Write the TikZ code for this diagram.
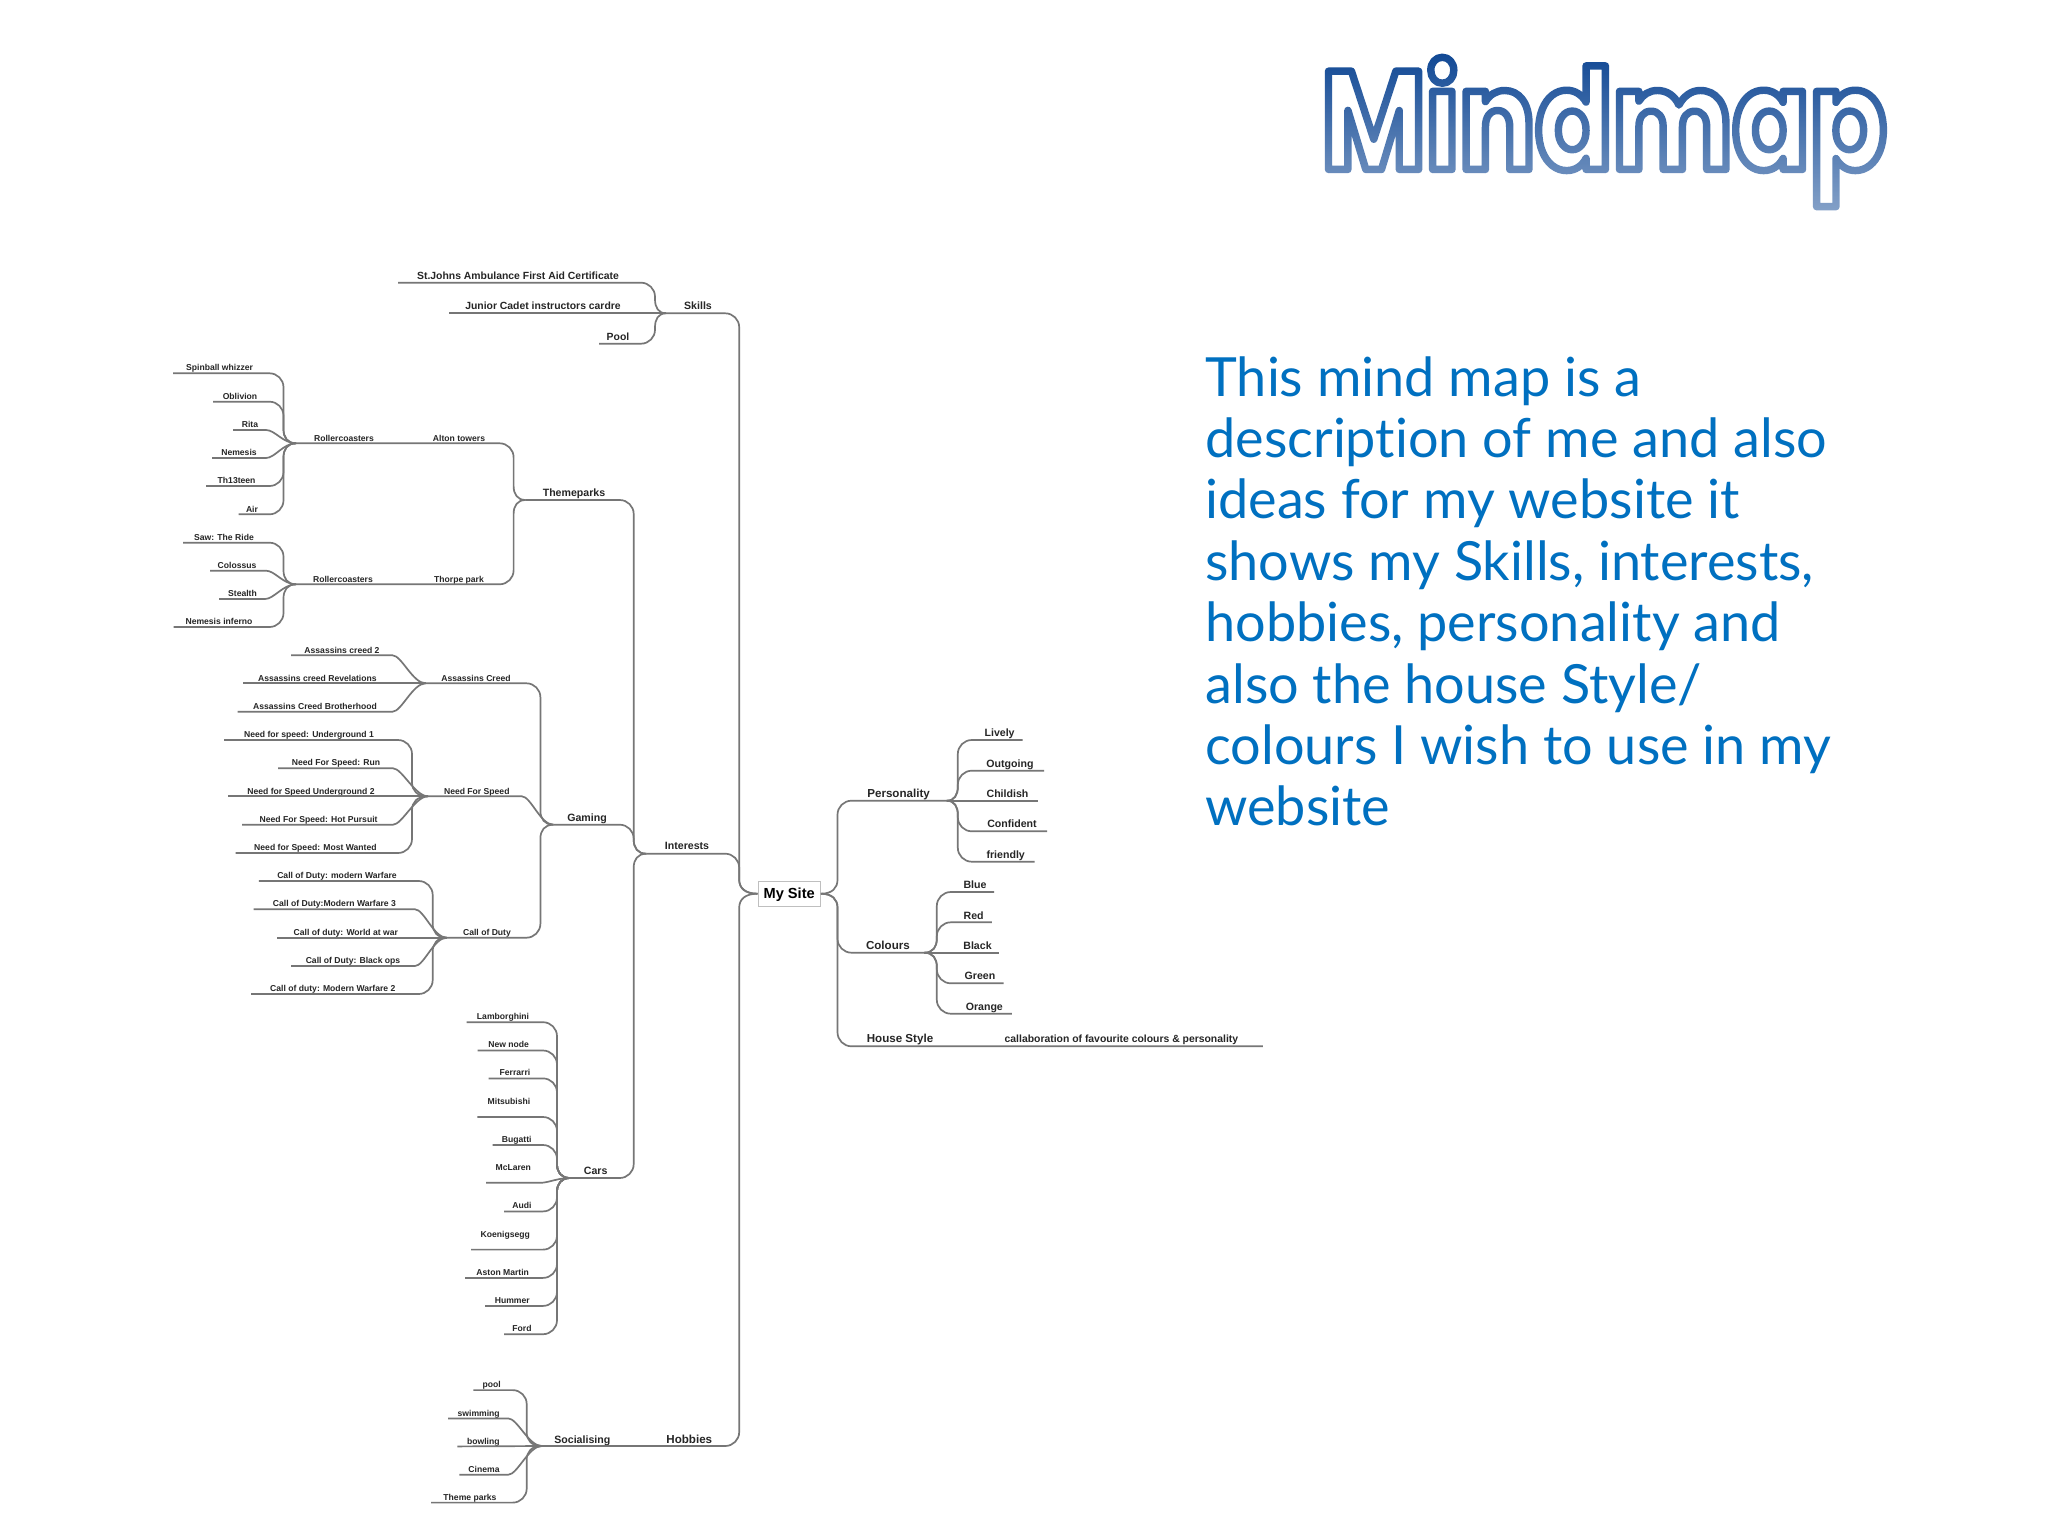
\documentclass[tikz,border=0pt]{standalone}
\usepackage{fontspec}
\setmainfont{Liberation Sans}
\newfontfamily\blurbfont[Ligatures=NoCommon]{Lato}
\newfontfamily\logofont[FakeStretch=0.81]{Poppins Bold}
\usetikzlibrary{fadings}
\definecolor{linegray}{HTML}{767676}
\definecolor{inkgray}{HTML}{262626}
\definecolor{blurbblue}{HTML}{0070C0}
\tikzset{
    branch/.style={draw=linegray, line width=0.85pt},
    hub/.style={inner sep=0pt, outer sep=0pt, minimum size=0pt},
    leaftext/.style={inner sep=0pt, text=inkgray, text height=3.6pt, text depth=0.5pt, font=\fontsize{4.3}{5}\selectfont\bfseries},
    lefttext/.style={inner sep=0pt, text=inkgray, text height=4.3pt, text depth=0.6pt, font=\fontsize{5.2}{6}\selectfont\bfseries},
    midtext/.style={inner sep=0pt, text=inkgray, text height=4.45pt, text depth=0.64pt, font=\fontsize{5.3}{6}\selectfont\bfseries},
    headtext/.style={inner sep=0pt, text=inkgray, text height=4.9pt, text depth=0.7pt, font=\fontsize{5.8}{7}\selectfont\bfseries},
    roottext/.style={draw=black!25, line width=0.7pt, fill=white, inner sep=0pt, minimum width=31pt, minimum height=12.5pt, text=black, text height=5.7pt, text depth=1.3pt, font=\fontsize{7.3}{8}\selectfont\bfseries},
}
% text of a twig, and the free end of its line
\newcommand{\leaf}[5][leaftext]{
    \node[#1] (#2) at (#3) {#4};
    \coordinate (#2end) at (#5);
}
% from a hub along a vertical into the horizontal line of #4
\newcommand{\bendto}[4]{
    \draw[branch] (#1) .. controls +({0.7*#2},0) and +(0,{-8*#3}) .. ++(#2,{14*#3}) [rounded corners=7pt] |- (#4);
}
% from a hub slanting to an elbow, then straight on
\newcommand{\slantto}[3]{
    \draw[branch] (#1) .. controls +(-13,0) and +(9,0) .. (#2) -- (#3);
}

\begin{document}
\begin{tikzpicture}[x=0.5pt,y=-0.5pt]
    \useasboundingbox[fill=white] (0,0) rectangle (2048,1536);

    % logo
    \node[inner sep=0pt, font=\fontsize{70}{76}\logofont] (title) at (1604,132)
        {\special{pdf:code q 1 1 1 rg 0.06 0.28 0.58 RG 3.7 w 1 j 1 J 2 Tr}Mindmap\special{pdf:code Q}};
    \fill[white, fill opacity=0.5, path fading=north] (1310,50) rectangle (1900,215);

    % blurb
    \node[anchor=north west, inner sep=0pt, align=left, text=blurbblue, font=\fontsize{27}{30.7}\selectfont\blurbfont] (blurb) at (1205,356)
        {This mind map is a\\description of me and also\\ideas for my website it\\shows my Skills, interests,\\hobbies, personality and\\also the house Style/\\colours I wish to use in my\\website};

    % root
    \node[roottext] (mysite) at (789.2,893.7) {My Site};

    % skills
    \node[hub] (skillshub) at (666,313.3) {};
    \node[midtext] (skills) at (698,305.7) {Skills};
    \bendto{mysite.west}{-18.3}{-1}{skillshub}
    \leaf[lefttext]{stjohns}{518,275.7}{St.Johns Ambulance First Aid Certificate}{398,282.7}
    \leaf[lefttext]{junior}{543,306}{Junior Cadet instructors cardre}{448.5,313.3}
    \leaf[lefttext]{poolskill}{618,336.3}{Pool}{599,343.7}
    \bendto{skillshub}{-11}{-1}{stjohnsend}
    \draw[branch] (skillshub) -- (juniorend);
    \bendto{skillshub}{-11}{1}{poolskillend}

    % interests
    \node[hub] (interestshub) at (646.4,853.7) {};
    \node[midtext] (interests) at (687,846) {Interests};
    \bendto{mysite.west}{-18.3}{-1}{interestshub}

    % themeparks
    \node[hub] (parkshub) at (525.6,500) {};
    \node[midtext] (themeparks) at (574,492.7) {Themeparks};
    \bendto{interestshub}{-12.7}{-1}{parkshub}
    \node[hub] (altonhub) at (296,443.3) {};
    \node[leaftext] (rollera) at (344,438) {Rollercoasters};
    \node[leaftext] (alton) at (459,438) {Alton towers};
    \node[hub] (thorpehub) at (296,584.3) {};
    \node[leaftext] (rollerb) at (343,579) {Rollercoasters};
    \node[leaftext] (thorpe) at (459,579) {Thorpe park};
    \bendto{parkshub}{-12}{-1}{altonhub}
    \bendto{parkshub}{-12}{1}{thorpehub}

    \leaf{spinball}{219.6,367.7}{Spinball whizzer}{173,373.3}
    \leaf{oblivion}{240,396}{Oblivion}{213,401.7}
    \leaf{rita}{250,424}{Rita}{233,430}
    \leaf{nemesis}{239,452.7}{Nemesis}{212,458}
    \leaf{thirteen}{236.6,480.7}{Th13teen}{206,486}
    \leaf{air}{252,509}{Air}{238.6,514.3}
    \bendto{altonhub}{-12.5}{-1}{spinballend}
    \bendto{altonhub}{-12.5}{-1}{oblivionend}
    \slantto{altonhub}{266,430}{ritaend}
    \slantto{altonhub}{266,458}{nemesisend}
    \bendto{altonhub}{-12.5}{1}{thirteenend}
    \bendto{altonhub}{-12.5}{1}{airend}

    \leaf{saw}{224,537}{Saw: The Ride}{183,542.7}
    \leaf{colossus}{237,565.3}{Colossus}{210,570.7}
    \leaf{stealth}{242.5,593.3}{Stealth}{219,599}
    \leaf{inferno}{219,621.7}{Nemesis inferno}{173.7,627}
    \bendto{thorpehub}{-12.5}{-1}{sawend}
    \slantto{thorpehub}{266,570.7}{colossusend}
    \slantto{thorpehub}{265,599}{stealthend}
    \bendto{thorpehub}{-12.5}{1}{infernoend}

    % gaming
    \node[hub] (gaminghub) at (553.4,824.7) {};
    \node[midtext] (gaming) at (587,817.7) {Gaming};
    \bendto{interestshub}{-12.7}{-1}{gaminghub}
    \node[hub] (creedhub) at (425.7,683.3) {};
    \node[leaftext] (creed) at (476,678) {Assassins Creed};
    \node[hub] (speedhub) at (428,796.3) {};
    \node[leaftext] (speed) at (476.8,791) {Need For Speed};
    \node[hub] (dutyhub) at (446.7,937.7) {};
    \node[leaftext] (duty) at (487,932.3) {Call of Duty};
    \bendto{gaminghub}{-13}{-1}{creedhub}
    \slantto{gaminghub}{521.8,796.3}{speedhub}
    \bendto{gaminghub}{-13}{1}{dutyhub}

    \leaf{creedtwo}{342,650}{Assassins creed 2}{291,655.3}
    \leaf{revelations}{317.4,678}{Assassins creed Revelations}{243,683.3}
    \leaf{brotherhood}{315,706.3}{Assassins Creed Brotherhood}{237.5,711.7}
    \slantto{creedhub}{392.5,655.3}{creedtwoend}
    \draw[branch] (creedhub) -- (revelationsend);
    \slantto{creedhub}{392.5,711.7}{brotherhoodend}

    \leaf{ugone}{309,734.7}{Need for speed: Underground 1}{224,740}
    \leaf{run}{336,762.7}{Need For Speed: Run}{278,768.3}
    \leaf{ugtwo}{311,791}{Need for Speed Underground 2}{227.6,796.3}
    \leaf{pursuit}{318.6,819.3}{Need For Speed: Hot Pursuit}{242,824.7}
    \leaf{wanted}{315.4,847.3}{Need for Speed: Most Wanted}{235.5,853}
    \bendto{speedhub}{-16}{-1}{ugoneend}
    \slantto{speedhub}{393,768.3}{runend}
    \draw[branch] (speedhub) -- (ugtwoend);
    \slantto{speedhub}{393,824.7}{pursuitend}
    \bendto{speedhub}{-16}{1}{wantedend}

    \leaf{warfare}{337,875.7}{Call of Duty: modern Warfare}{258.9,881}
    \leaf{warfarethree}{334.4,903.7}{Call of Duty:Modern Warfare 3}{253.7,909.3}
    \leaf{worldwar}{345.8,932.3}{Call of duty: World at war}{276.6,937.7}
    \leaf{blackops}{353,960.3}{Call of Duty: Black ops}{291,966}
    \leaf{warfaretwo}{332.8,988.3}{Call of duty: Modern Warfare 2}{251,994}
    \bendto{dutyhub}{-14}{-1}{warfareend}
    \slantto{dutyhub}{415,909.3}{warfarethreeend}
    \draw[branch] (dutyhub) -- (worldwarend);
    \slantto{dutyhub}{415,966}{blackopsend}
    \bendto{dutyhub}{-14}{1}{warfaretwoend}

    % cars
    \node[hub] (carshub) at (570,1178) {};
    \node[midtext] (cars) at (595.7,1170.8) {Cars};
    \bendto{interestshub}{-12.7}{1}{carshub}
    \leaf{lamborghini}{503,1016.4}{Lamborghini}{466.7,1022.2}
    \leaf{newnode}{508.7,1044.7}{New node}{477.7,1050.5}
    \leaf{ferrari}{515,1072.6}{Ferrarri}{488.7,1078.4}
    \leaf{mitsubishi}{509,1101}{Mitsubishi}{477.3,1117}
    \leaf{bugatti}{516.7,1139}{Bugatti}{492.7,1145}
    \leaf{mclaren}{513.3,1167.4}{McLaren}{486,1182.8}
    \leaf{audi}{522,1205.6}{Audi}{504,1211.4}
    \leaf{koenigsegg}{505.3,1233.9}{Koenigsegg}{471,1249.6}
    \leaf{aston}{502.7,1272.1}{Aston Martin}{465,1277.9}
    \leaf{hummer}{512.3,1300.4}{Hummer}{485,1305.9}
    \leaf{ford}{522,1328.4}{Ford}{504,1334.2}
    \bendto{carshub}{-13}{-1}{lamborghiniend}
    \bendto{carshub}{-13}{-1}{newnodeend}
    \bendto{carshub}{-13}{-1}{ferrariend}
    \bendto{carshub}{-13}{-1}{mitsubishiend}
    \bendto{carshub}{-13}{-1}{bugattiend}
    \slantto{carshub}{540,1182.8}{mclarenend}
    \bendto{carshub}{-13}{1}{audiend}
    \bendto{carshub}{-13}{1}{koenigseggend}
    \bendto{carshub}{-13}{1}{astonend}
    \bendto{carshub}{-13}{1}{hummerend}
    \bendto{carshub}{-13}{1}{fordend}

    % hobbies
    \node[hub] (socialhub) at (541.7,1446) {};
    \node[midtext] (socialising) at (582.3,1439.2) {Socialising};
    \node[headtext] (hobbies) at (689.3,1438.9) {Hobbies};
    \bendto{mysite.west}{-18.3}{1}{socialhub}
    \leaf{pool}{491.7,1384.6}{pool}{473.3,1390.1}
    \leaf{swimming}{478.7,1413}{swimming}{448,1418.4}
    \leaf{bowling}{483.3,1441.3}{bowling}{457.3,1446.4}
    \leaf{cinema}{484,1468.9}{Cinema}{459.3,1474.7}
    \leaf{themepark}{470,1497.5}{Theme parks}{431,1502.6}
    \bendto{socialhub}{-15}{-1}{poolend}
    \slantto{socialhub}{508.3,1418.4}{swimmingend}
    \draw[branch] (socialhub) -- (bowlingend);
    \slantto{socialhub}{508.3,1474.7}{cinemaend}
    \bendto{socialhub}{-15}{1}{themeparkend}

    % personality
    \node[hub] (personalhub) at (946.8,800.7) {};
    \node[headtext] (personality) at (898.6,793.3) {Personality};
    \bendto{mysite.east}{16.6}{-1}{personalhub}
    \leaf[midtext]{lively}{999.6,732.7}{Lively}{1022.5,740}
    \leaf[midtext]{outgoing}{1010,763.3}{Outgoing}{1044,770.7}
    \leaf[midtext]{childish}{1007.5,793.7}{Childish}{1037.5,800.7}
    \leaf[midtext]{confident}{1012,824}{Confident}{1047,831.3}
    \leaf[midtext]{friendly}{1005.7,854.3}{friendly}{1034.6,861.7}
    \bendto{personalhub}{11}{-1}{livelyend}
    \bendto{personalhub}{11}{-1}{outgoingend}
    \draw[branch] (personalhub) -- (childishend);
    \bendto{personalhub}{11}{1}{confidentend}
    \bendto{personalhub}{11}{1}{friendlyend}

    % colours
    \node[hub] (colourhub) at (924.3,952.7) {};
    \node[headtext] (colours) at (887.9,945.3) {Colours};
    \bendto{mysite.east}{16.6}{1}{colourhub}
    \leaf[midtext]{blue}{975,884.7}{Blue}{994,892}
    \leaf[midtext]{red}{973.6,915.3}{Red}{991.8,922.3}
    \leaf[midtext]{black}{977.5,945.7}{Black}{999.3,952.7}
    \leaf[midtext]{green}{980,976}{Green}{1003.6,983.3}
    \leaf[midtext]{orange}{984.3,1006.3}{Orange}{1011.8,1013.7}
    \bendto{colourhub}{12.5}{-1}{blueend}
    \bendto{colourhub}{12.5}{-1}{redend}
    \draw[branch] (colourhub) -- (blackend);
    \bendto{colourhub}{12.5}{1}{greenend}
    \bendto{colourhub}{12.5}{1}{orangeend}

    % house style
    \node[headtext] (housestyle) at (900,1038.7) {House Style};
    \leaf[lefttext]{blend}{1121.4,1039}{callaboration of favourite colours \& personality}{1262.9,1046.3}
    \bendto{mysite.east}{16.6}{1}{blendend}
\end{tikzpicture}
\end{document}
